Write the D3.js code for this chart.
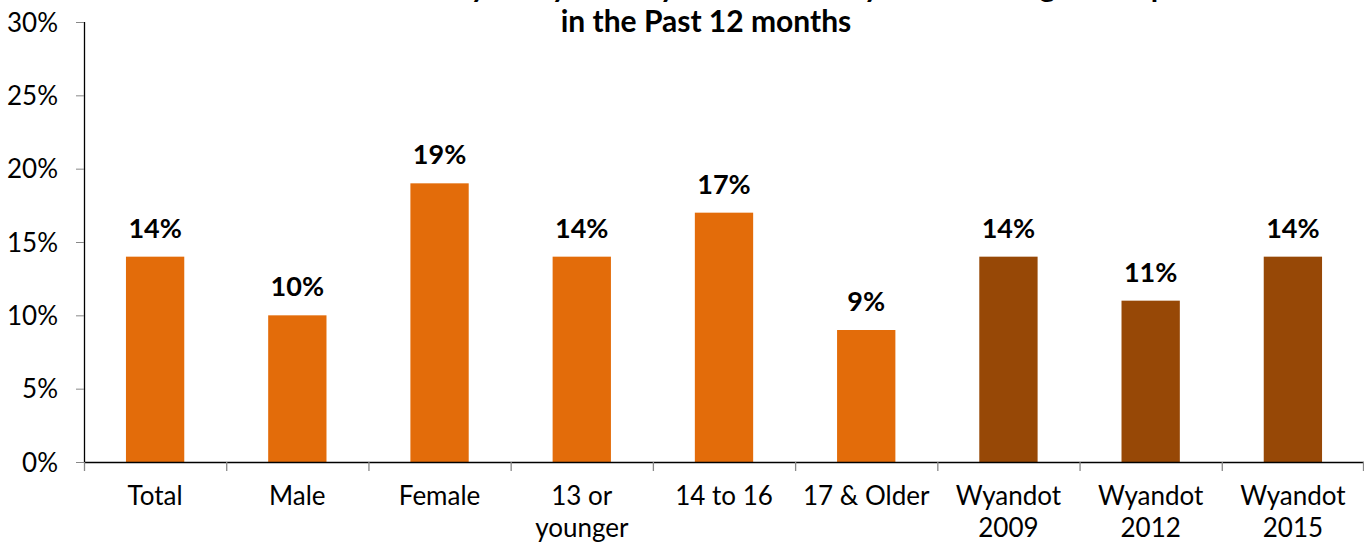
<!DOCTYPE html>
<html><head><meta charset="utf-8">
<script src="https://cdn.jsdelivr.net/npm/d3@7"></script>
<style>
html,body{margin:0;padding:0;background:#fff;overflow:hidden}
text{font-family:Lato,"Open Sans",sans-serif}
</style></head>
<body><svg id="c" width="1364" height="542"></svg>
<script>
const categories = ["Total","Male","Female","13 or younger","14 to 16","17 & Older","Wyandot 2009","Wyandot 2012","Wyandot 2015"];
const catLines = [["Total"],["Male"],["Female"],["13 or","younger"],["14 to 16"],["17 & Older"],["Wyandot","2009"],["Wyandot","2012"],["Wyandot","2015"]];
const values = [14,10,19,14,17,9,14,11,14];
const groups = ["current","current","current","current","current","current","trend","trend","trend"];
const yTicks = [0,5,10,15,20,25,30];
const titleLines = ["Youth Who Were Physically Hurt by Someone They Were Dating on Purpose","in the Past 12 months"];
const colors = {current:"#E36C0A", trend:"#974806"};

const svg = d3.select("#c");
const m = {left:84, right:0};
const W = 1364;
const x = d3.scaleBand().domain(categories).range([m.left, W - m.right]).paddingInner(0.59).paddingOuter(0.295);
const xb = d3.scaleBand().domain(categories).range([m.left, W - m.right]);
const y = d3.scaleLinear().domain([0,30]).range([462, 22]);

// y axis
const ya = svg.append("g").attr("transform",`translate(${m.left},0)`)
  .call(d3.axisLeft(y).tickValues(yTicks).tickFormat(d=>d+"%").tickSize(8).tickPadding(18));
ya.select(".domain").attr("stroke","#000").attr("stroke-width",1.3).attr("d",`M0.5,${y(30)}V${y(0)}`);
ya.selectAll(".tick line").attr("stroke","#888");
ya.selectAll(".tick text").attr("font-size",26).attr("fill","#000").attr("dy","0.35em")
  .style("font-family","Lato,'Open Sans',sans-serif");

// bars
svg.append("g").selectAll("rect").data(categories).join("rect")
  .attr("x",d=>x(d)).attr("width",x.bandwidth())
  .attr("y",(d,i)=>y(values[i])).attr("height",(d,i)=>y(0)-y(values[i]))
  .attr("fill",(d,i)=>colors[groups[i]]);

// value labels
svg.append("g").selectAll("text").data(categories).join("text")
  .attr("x",d=>x(d)+x.bandwidth()/2).attr("y",(d,i)=>y(values[i])-19)
  .attr("text-anchor","middle").attr("font-size",27).attr("font-weight","bold")
  .text((d,i)=>values[i]+"%");

// x axis
const xa = svg.append("g").attr("transform",`translate(0,${y(0)})`)
  .call(d3.axisBottom(xb).tickSize(0).tickFormat(""));
xa.select(".domain").attr("stroke","#000").attr("stroke-width",1.3);
xa.selectAll(".tick").remove();
const bounds = categories.map(c=>xb(c)).concat([W - m.right]);
svg.append("g").selectAll("line").data(bounds).join("line")
  .attr("x1",d=>Math.min(d,W-1)+0.5).attr("x2",d=>Math.min(d,W-1)+0.5)
  .attr("y1",y(0)).attr("y2",y(0)+9).attr("stroke","#888").attr("stroke-width",1.3);

// x labels
const xl = svg.append("g").selectAll("text").data(categories).join("text")
  .attr("x",d=>xb(d)+xb.bandwidth()/2).attr("y",505)
  .attr("text-anchor","middle").attr("font-size",26).attr("fill","#000");
xl.each(function(d,i){
  const t = d3.select(this);
  catLines[i].forEach((ln,j)=>{
    t.append("tspan").attr("x",xb(d)+xb.bandwidth()/2).attr("dy",j?32:0).text(ln);
  });
});

// title
svg.append("g").selectAll("text").data(titleLines).join("text")
  .attr("x",706).attr("y",(d,i)=>32 + (i-1)*35)
  .attr("text-anchor","middle").attr("font-size",30).attr("font-weight","bold")
  .text(d=>d);
</script></body></html>
